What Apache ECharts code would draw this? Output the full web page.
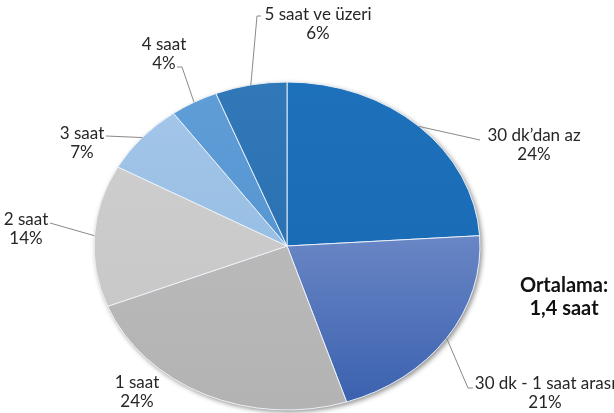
<!DOCTYPE html>
<html>
<head>
<meta charset="utf-8">
<script src="https://cdn.jsdelivr.net/npm/echarts/dist/echarts.min.js"></script>
<style>
  html, body { margin: 0; padding: 0; background: #fff; }
  #chart { width: 614px; height: 413px; }
</style>
</head>
<body>
<div id="chart"></div>
<script>
const categories = ['30 dk’dan az', '30 dk - 1 saat arası', '1 saat', '2 saat', '3 saat', '4 saat', '5 saat ve üzeri']
const percents = [24, 21, 24, 14, 7, 4, 6]
const averageText = ['Ortalama:', '1,4 saat']

// colours, top-down gradient stops per slice
const sliceColors = [
  ['#1d70ba', '#1b6cb6'],
  ['#6986c5', '#3b61af'],
  ['#b9b9b9', '#b3b3b3'],
  ['#cdcdcd', '#c8c8c8'],
  ['#a2c5e8', '#98bfe4'],
  ['#5e9dd6', '#5796d2'],
  ['#3178b8', '#2c72b3']
]

// pie is a bit squashed (ellipse)
const cx = 287
const cy = 246
const rx = 193
const ry = 164

// label layout: leader line bend points + text centre
const labelLayout = [
  { line: [[480, 140]], text: [534, 145] },
  { line: [[468, 388], [473, 388]], text: [545, 393] },
  { line: null, text: [137, 392] },
  { line: [[50, 223]], text: [26, 229] },
  { line: [[106, 136]], text: [82, 143] },
  { line: [[182, 67], [177, 67]], text: [164, 54] },
  { line: [[257, 16], [261, 16]], text: [318, 24] }
]

const total = percents.reduce((a, b) => a + b, 0)
const cum = []
percents.reduce((acc, v, i) => { cum[i] = acc; return acc + v }, 0)

function renderItem(params, api) {
  const i = params.dataIndex
  const v = api.value(0)
  const a0 = cum[i] / total * Math.PI * 2
  const a1 = (cum[i] + v) / total * Math.PI * 2
  const mid = (a0 + a1) / 2
  const edge = [cx + rx * Math.sin(mid), cy - ry * Math.cos(mid)]
  const c = sliceColors[i]

  const children = [{
    type: 'sector',
    x: cx,
    y: cy,
    scaleY: ry / rx,
    shape: {
      cx: 0,
      cy: 0,
      r0: 0,
      r: rx,
      startAngle: a0 - Math.PI / 2,
      endAngle: a1 - Math.PI / 2,
      clockwise: true
    },
    style: {
      fill: new echarts.graphic.LinearGradient(0, 0, 0, 1, [
        { offset: 0, color: c[0] },
        { offset: 1, color: c[1] }
      ]),
      stroke: '#eef3fa',
      lineWidth: 1,
      strokeNoScale: true
    }
  }]

  const lay = labelLayout[i]
  if (lay.line) {
    children.push({
      type: 'polyline',
      shape: { points: [edge].concat(lay.line) },
      style: { stroke: '#8a8a8a', lineWidth: 1, fill: null }
    })
  }
  children.push({
    type: 'text',
    style: {
      text: categories[i] + '\n' + v + '%',
      x: lay.text[0],
      y: lay.text[1],
      align: 'center',
      verticalAlign: 'middle',
      lineHeight: 19,
      font: '17px Lato, "Open Sans", sans-serif',
      fill: '#262626'
    }
  })
  return { type: 'group', children: children }
}

const myChart = echarts.init(document.getElementById('chart'))

myChart.setOption({
  animation: false,
  backgroundColor: '#fff',
  graphic: [
    {
      // soft shadow behind the pie
      type: 'circle',
      x: cx,
      y: cy,
      scaleY: ry / rx,
      shape: { cx: 0, cy: 0, r: rx },
      style: {
        fill: '#fff',
        shadowBlur: 5,
        shadowOffsetX: 2,
        shadowOffsetY: 2,
        shadowColor: 'rgba(0,0,0,0.45)'
      },
      z: 0
    },
    {
      type: 'text',
      style: {
        text: averageText.join('\n'),
        x: 564,
        y: 297,
        align: 'center',
        verticalAlign: 'middle',
        lineHeight: 23,
        font: 'bold 20px Lato, "Open Sans", sans-serif',
        fill: '#111'
      },
      z: 5
    }
  ],
  series: [
    {
      type: 'custom',
      coordinateSystem: 'none',
      renderItem: renderItem,
      data: percents.map(v => [v]),
      z: 3
    }
  ]
})
</script>
</body>
</html>
